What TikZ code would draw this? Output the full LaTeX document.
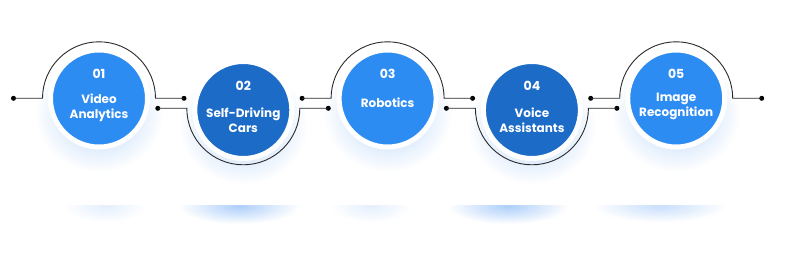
\documentclass[tikz,border=0pt]{standalone}
\usepackage{fontspec}
\setmainfont{Poppins}
\usetikzlibrary{fadings}
\definecolor{lblue}{HTML}{2D8CF2}
\definecolor{dblue}{HTML}{1B6BC7}
\definecolor{wirec}{HTML}{2A2A2A}
\definecolor{glowc}{HTML}{4A95F5}
\tikzfading[name=glowfade, inner color=transparent!0, outer color=transparent!100]
\begin{document}
\begin{tikzpicture}[x=1pt,y=-1pt,
  wire/.style={draw=wirec, line width=0.9pt},
  dot/.style={circle, fill=black, inner sep=0pt, minimum size=5pt},
  ball/.style={circle, draw=white, line width=5pt, minimum size=97pt, inner sep=0pt},
  numtxt/.style={text=white, font=\fontsize{12.5}{14}\selectfont\bfseries},
  labtxt/.style={text=white, align=center, font=\fontsize{12}{15}\selectfont\bfseries},
  glow/.style={fill=glowc, path fading=glowfade}]
\useasboundingbox (0,0) rectangle (791,256);
\fill[white] (0,0) rectangle (791,256);
% soft glows under the circles
\fill[glow, fill opacity=0.4] (99,114) ellipse [x radius=64, y radius=58];
\fill[glow, fill opacity=0.4] (243.3,126) ellipse [x radius=64, y radius=58];
\fill[glow, fill opacity=0.4] (387.6,114) ellipse [x radius=64, y radius=58];
\fill[glow, fill opacity=0.4] (531.9,126) ellipse [x radius=64, y radius=58];
\fill[glow, fill opacity=0.4] (676.2,114) ellipse [x radius=64, y radius=58];
% clipped glow strips near the bottom
\begin{scope}
  \clip (0,206) rectangle (791,224);
  \fill[glow, fill opacity=0.15] (105,206) ellipse [x radius=40, y radius=16];
  \fill[glow, fill opacity=0.45] (239,206) ellipse [x radius=60, y radius=18];
  \fill[glow, fill opacity=0.15] (371,206) ellipse [x radius=40, y radius=16];
  \fill[glow, fill opacity=0.45] (508,206) ellipse [x radius=60, y radius=18];
  \fill[glow, fill opacity=0.3] (660,206) ellipse [x radius=66, y radius=16];
\end{scope}
% dots
\node[dot] (l1) at (13.5,98.3) {};
\node[dot] (r1) at (184,98.3) {};
\node[dot] (l2) at (157.8,108.3) {};
\node[dot] (r2) at (328.3,108.3) {};
\node[dot] (l3) at (302.1,98.3) {};
\node[dot] (r3) at (472.6,98.3) {};
\node[dot] (l4) at (446.4,108.3) {};
\node[dot] (r4) at (616.9,108.3) {};
\node[dot] (l5) at (590.7,98.3) {};
\node[dot] (r5) at (761.7,98.3) {};
% wires
\draw[wire] (l1.center) -- ++(29,0) arc [start angle=180, end angle=360, radius=56.5] -- (r1.center);
\draw[wire] (l2.center) -- ++(29,0) arc [start angle=180, end angle=0, radius=56.5] -- (r2.center);
\draw[wire] (l3.center) -- ++(29,0) arc [start angle=180, end angle=360, radius=56.5] -- (r3.center);
\draw[wire] (l4.center) -- ++(29,0) arc [start angle=180, end angle=0, radius=56.5] -- (r4.center);
\draw[wire] (l5.center) -- ++(29,0) arc [start angle=180, end angle=360, radius=56.5] -- (r5.center);
% circles
\node[ball, fill=lblue] (c1) at (99,98.5) {};
\node[ball, fill=dblue] (c2) at (243.3,110) {};
\node[ball, fill=lblue] (c3) at (387.6,98.5) {};
\node[ball, fill=dblue] (c4) at (531.9,110) {};
\node[ball, fill=lblue] (c5) at (676.2,98.5) {};
% texts
\node[numtxt] (n1) at (99,73.5) {01};
\node[numtxt] (n2) at (243.3,85.5) {02};
\node[numtxt] (n3) at (387.6,73.5) {03};
\node[numtxt] (n4) at (531.9,85.5) {04};
\node[numtxt] (n5) at (676.2,73.5) {05};
\node[labtxt] (t1) at (99,108) {Video\\Analytics};
\node[labtxt] (t2) at (243.3,120.5) {Self-Driving\\Cars};
\node[labtxt] (t3) at (387.6,103) {Robotics};
\node[labtxt] (t4) at (531.9,120.5) {Voice\\Assistants};
\node[labtxt] (t5) at (676.2,106.5) {Image\\Recognition};
\end{tikzpicture}
\end{document}
